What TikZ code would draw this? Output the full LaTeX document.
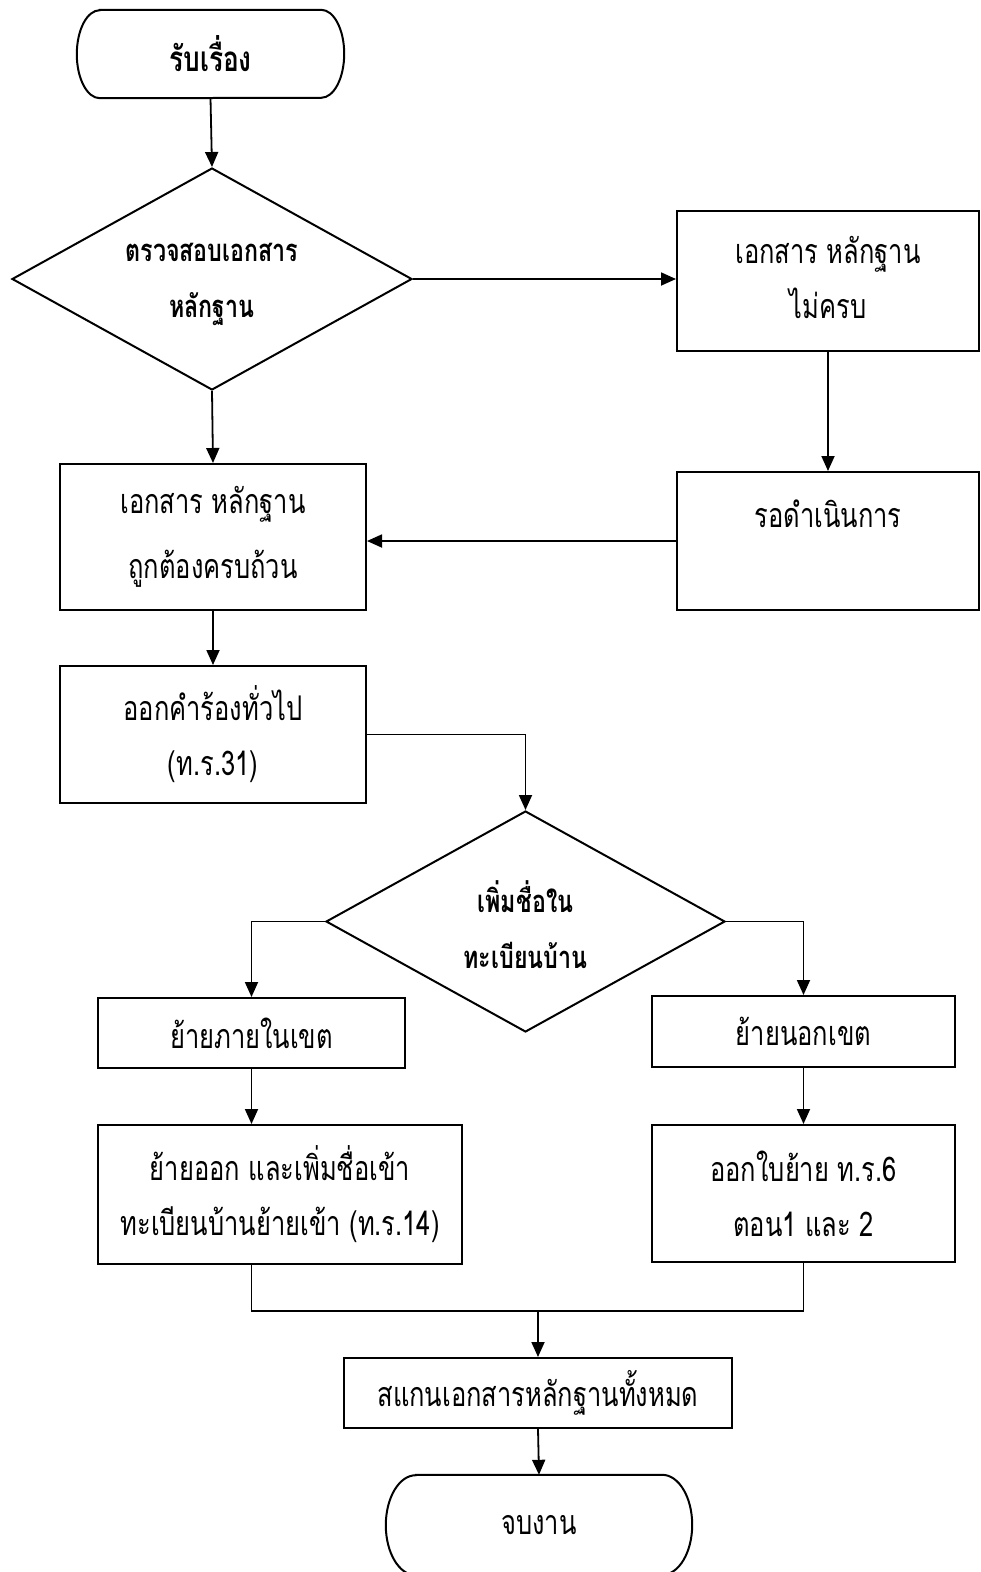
\documentclass[tikz,border=0pt]{standalone}
\usepackage{fontspec}
\newfontfamily\thai[Script=Thai,FakeStretch=0.75]{Loma}
\usetikzlibrary{shapes.geometric,arrows.meta}
% stadium outline with elliptical ends around a node: #1 name, #2 end depth, #3 half height
\newcommand\stadiumline[3]{%
  \draw[frame] ([xshift=#2]#1.north west) -- ([xshift=-#2]#1.north east)
    arc[start angle=90,end angle=-90,x radius=#2,y radius=#3]
    -- ([xshift=#2]#1.south west)
    arc[start angle=270,end angle=90,x radius=#2,y radius=#3] -- cycle;}
\begin{document}
\begin{tikzpicture}[x=1pt,y=1pt,
  every node/.style={font=\thai\fontsize{34}{55}\selectfont},
  frame/.style={line width=2pt},
  edge/.style={line width=1.8pt},
  arr/.style={edge,-{Triangle[length=15pt,width=13pt]}},
  box/.style={draw,frame,inner sep=0pt,align=center},
  term/.style={inner sep=0pt,align=center},
  decide/.style={draw,diamond,frame,inner sep=0pt},
  btext/.style={align=center,font=\thai\bfseries\fontsize{31}{56}\selectfont}]
\useasboundingbox (0,0) rectangle (981,-1572);
\begin{scope}
\clip (0,0) rectangle (981,-1572);

% start and end terminals
\node[term,minimum width=267pt,minimum height=88pt,font=\thai\bfseries\fontsize{35}{56}\selectfont] (start) at (210.5,-54) {รับเรื่อง};
\stadiumline{start}{23pt}{44pt}
\node[term,minimum width=306pt,minimum height=100pt] (endt) at (539,-1525) {\raisebox{-4pt}{จบงาน}};
\stadiumline{endt}{30pt}{50pt}

% first decision
\node[decide,minimum width=400pt,minimum height=222pt] (d1) at (212,-279) {};
\node[btext] (d1t) at ([yshift=-5pt]d1.center) {ตรวจสอบเอกสาร\\หลักฐาน};

% process boxes
\node[box,minimum width=302pt,minimum height=140pt] (a) at (828,-281) {\raisebox{7pt}{เอกสาร หลักฐาน}\\\raisebox{7pt}{ไม่ครบ}};
\node[box,minimum width=302pt,minimum height=138pt] (b) at (828,-541) {รอดำเนินการ\\\mbox{}};
\node[box,minimum width=306pt,minimum height=146pt,font=\thai\fontsize{34}{65}\selectfont] (c) at (213,-537) {เอกสาร หลักฐาน\\ถูกต้องครบถ้วน};
\node[box,minimum width=306pt,minimum height=137pt] (d) at (213,-734.5) {\raisebox{3pt}{ออกคำร้องทั่วไป}\\\raisebox{3pt}{(ท.ร.31)}};

% second decision
\node[decide,minimum width=399pt,minimum height=221pt] (d2) at (525.5,-921.5) {};
\node[btext] (d2t) at ([yshift=-3pt]d2.center) {เพิ่มชื่อใน\\ทะเบียนบ้าน};

\node[box,minimum width=307pt,minimum height=70pt] (e) at (251.5,-1033) {ย้ายภายในเขต};
\node[box,minimum width=303pt,minimum height=71pt] (f) at (803.5,-1031.5) {ย้ายนอกเขต};
\node[box,minimum width=364pt,minimum height=139pt] (g) at (280,-1194.5) {ย้ายออก และเพิ่มชื่อเข้า\\ทะเบียนบ้านย้ายเข้า (ท.ร.14)};
\node[box,minimum width=303pt,minimum height=137pt] (h) at (803.5,-1193.5) {ออกใบย้าย ท.ร.6\\ตอน1 และ 2};
\node[box,minimum width=388pt,minimum height=70pt] (i) at (538,-1393) {สแกนเอกสารหลักฐานทั้งหมด};

\coordinate (mj) at (538,-1311);

% connectors
\draw[arr] (start.south) -- (d1.north);
\draw[arr] (d1.east) -- (d1.east -| a.west);
\draw[arr] (a.south) -- (b.north);
\draw[arr] (b.west) -- (b.west -| c.east);
\draw[arr] (d1.south) -- (c.north);
\draw[arr] (c.south) -- (d.north);
\draw[arr] (d.east) -| (d2.north);
\draw[arr] (d2.west) -| (e.north);
\draw[arr] (d2.east) -| (f.north);
\draw[arr] (e.south) -- (e.south |- g.north);
\draw[arr] (f.south) -- (h.north);
\draw[edge] (e.south |- g.south) |- (mj) -| (h.south);
\draw[arr] (mj) -- (i.north);
\draw[arr] (i.south) -- (endt.north);
\end{scope}
\end{tikzpicture}
\end{document}
